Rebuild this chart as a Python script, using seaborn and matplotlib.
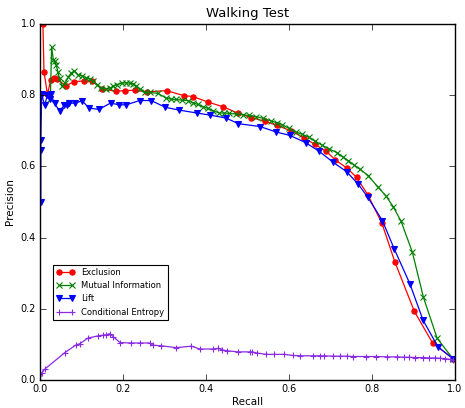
import matplotlib
matplotlib.use("Agg")
import matplotlib.pyplot as plt
import seaborn as sns

# ---- data ----
excl_recall = [0.007, 0.0096, 0.018, 0.026, 0.034, 0.042, 0.062, 0.082, 0.106, 0.125,
               0.150, 0.182, 0.205, 0.229, 0.257, 0.305, 0.346, 0.369, 0.404, 0.440,
               0.476, 0.509, 0.542, 0.571, 0.605, 0.636, 0.662, 0.690, 0.712, 0.740,
               0.763, 0.790, 0.824, 0.855, 0.902, 0.946, 0.995]
excl_prec = [1.0, 0.866, 0.802, 0.843, 0.847, 0.845, 0.826, 0.838, 0.840, 0.840,
             0.818, 0.811, 0.813, 0.814, 0.809, 0.813, 0.799, 0.796, 0.781, 0.768,
             0.750, 0.737, 0.727, 0.715, 0.700, 0.680, 0.662, 0.642, 0.618, 0.595,
             0.569, 0.520, 0.440, 0.332, 0.193, 0.104, 0.060]

mi_recall = [0.025, 0.028, 0.032, 0.035, 0.039, 0.043, 0.047, 0.053, 0.060, 0.068,
             0.075, 0.083, 0.092, 0.100, 0.112, 0.120, 0.128, 0.138, 0.148, 0.158,
             0.168, 0.177, 0.185, 0.197, 0.208, 0.216, 0.224, 0.232, 0.240, 0.252,
             0.264, 0.284, 0.304, 0.316, 0.328, 0.342, 0.356, 0.368, 0.380, 0.392,
             0.404, 0.418, 0.432, 0.444, 0.456, 0.472, 0.488, 0.504, 0.520, 0.538,
             0.556, 0.570, 0.584, 0.600, 0.616, 0.632, 0.647, 0.663, 0.679, 0.697,
             0.715, 0.729, 0.743, 0.757, 0.771, 0.791, 0.815, 0.833, 0.851, 0.870,
             0.897, 0.924, 0.957, 0.995]
mi_prec = [0.790, 0.936, 0.900, 0.895, 0.885, 0.866, 0.847, 0.826, 0.834, 0.850,
           0.862, 0.868, 0.857, 0.855, 0.849, 0.845, 0.840, 0.830, 0.820, 0.818,
           0.820, 0.825, 0.830, 0.834, 0.835, 0.834, 0.832, 0.826, 0.818, 0.808,
           0.808, 0.805, 0.792, 0.789, 0.788, 0.786, 0.785, 0.779, 0.774, 0.768,
           0.763, 0.756, 0.750, 0.750, 0.749, 0.747, 0.745, 0.743, 0.740, 0.735,
           0.728, 0.723, 0.717, 0.707, 0.697, 0.690, 0.683, 0.671, 0.660, 0.649,
           0.639, 0.627, 0.616, 0.604, 0.592, 0.574, 0.541, 0.518, 0.487, 0.446,
           0.360, 0.232, 0.117, 0.060]

lift_recall = [0.002, 0.002, 0.002, 0.004, 0.011, 0.018, 0.023, 0.026, 0.035, 0.047,
               0.059, 0.065, 0.071, 0.084, 0.102, 0.118, 0.142, 0.170, 0.190, 0.208,
               0.240, 0.268, 0.302, 0.336, 0.378, 0.410, 0.448, 0.478, 0.530, 0.568,
               0.602, 0.640, 0.673, 0.707, 0.739, 0.767, 0.790, 0.825, 0.854, 0.891,
               0.923, 0.959, 0.995]
lift_prec = [0.500, 0.646, 0.674, 0.803, 0.772, 0.800, 0.790, 0.803, 0.777, 0.756,
             0.772, 0.773, 0.777, 0.778, 0.784, 0.764, 0.760, 0.778, 0.773, 0.773,
             0.785, 0.785, 0.766, 0.758, 0.750, 0.744, 0.736, 0.720, 0.712, 0.697,
             0.687, 0.667, 0.642, 0.611, 0.585, 0.550, 0.513, 0.448, 0.367, 0.271,
             0.168, 0.093, 0.060]

ce_recall = [0.0, 0.004, 0.012, 0.060, 0.086, 0.096, 0.116, 0.140, 0.152, 0.160,
             0.168, 0.177, 0.193, 0.220, 0.240, 0.264, 0.272, 0.292, 0.328, 0.365,
             0.385, 0.418, 0.430, 0.438, 0.450, 0.478, 0.505, 0.512, 0.522, 0.545,
             0.565, 0.589, 0.609, 0.627, 0.657, 0.675, 0.684, 0.705, 0.723, 0.739,
             0.755, 0.786, 0.810, 0.837, 0.861, 0.878, 0.890, 0.904, 0.924, 0.938,
             0.952, 0.964, 0.976, 0.987, 0.995]
ce_prec = [0.0, 0.019, 0.031, 0.077, 0.098, 0.102, 0.118, 0.124, 0.126, 0.127,
           0.130, 0.121, 0.105, 0.104, 0.104, 0.104, 0.098, 0.096, 0.091, 0.095,
           0.087, 0.087, 0.089, 0.085, 0.082, 0.079, 0.079, 0.079, 0.076, 0.072,
           0.072, 0.072, 0.069, 0.068, 0.068, 0.068, 0.068, 0.067, 0.067, 0.067,
           0.066, 0.066, 0.066, 0.065, 0.065, 0.064, 0.064, 0.063, 0.063, 0.062,
           0.062, 0.061, 0.060, 0.058, 0.056]

series_names = ["Exclusion", "Mutual Information", "Lift", "Conditional Entropy"]
tick_values = [0.0, 0.2, 0.4, 0.6, 0.8, 1.0]

# ---- style ----
plt.style.use("classic")
plt.rcParams.update({
    "figure.facecolor": "white",
    "savefig.facecolor": "white",
    "font.family": ["DejaVu Sans"],
    "xtick.labelsize": 7,
    "ytick.labelsize": 7,
    "xtick.major.size": 4,
    "ytick.major.size": 4,
    "axes.linewidth": 1.0,
})

fig = plt.figure(figsize=(4.65, 4.08), dpi=100)
ax = fig.add_axes([40 / 465, 28 / 408, 415 / 465, 356 / 408])

specs = [
    (excl_recall, excl_prec, "o", "red", 3.8),
    (mi_recall, mi_prec, "x", "green", 3.8),
    (lift_recall, lift_prec, "v", "blue", 4.2),
    (ce_recall, ce_prec, "+", "#8a2be2", 4.0),
]
for (xs, ys, mk, col, ms), name in zip(specs, series_names):
    sns.lineplot(x=xs, y=ys, ax=ax, estimator=None, sort=False,
                 marker=mk, markersize=ms, color=col, linewidth=0.9,
                 markeredgecolor=col, markeredgewidth=0.8, label=name)

ax.set_xlim(0, 1)
ax.set_ylim(0, 1)
ax.set_xticks(tick_values)
ax.set_yticks(tick_values)
ax.set_xticklabels([f"{v:.1f}" for v in tick_values])
ax.set_yticklabels([f"{v:.1f}" for v in tick_values])
ax.tick_params(direction="in", top=True, right=True, pad=3)
ax.set_xlabel("Recall", fontsize=7.5, labelpad=2)
ax.set_ylabel("Precision", fontsize=7.5, labelpad=4)
ax.set_title("Walking Test", fontsize=9.5, pad=5)

leg = ax.legend(loc="lower left", bbox_to_anchor=(0.031, 0.169), borderaxespad=0,
                fontsize=6, numpoints=2, fancybox=False, frameon=True,
                handlelength=2.2, borderpad=0.4, labelspacing=0.5)
leg.get_frame().set_edgecolor("black")
leg.get_frame().set_linewidth(0.8)

fig.savefig("out.png", dpi=100)
